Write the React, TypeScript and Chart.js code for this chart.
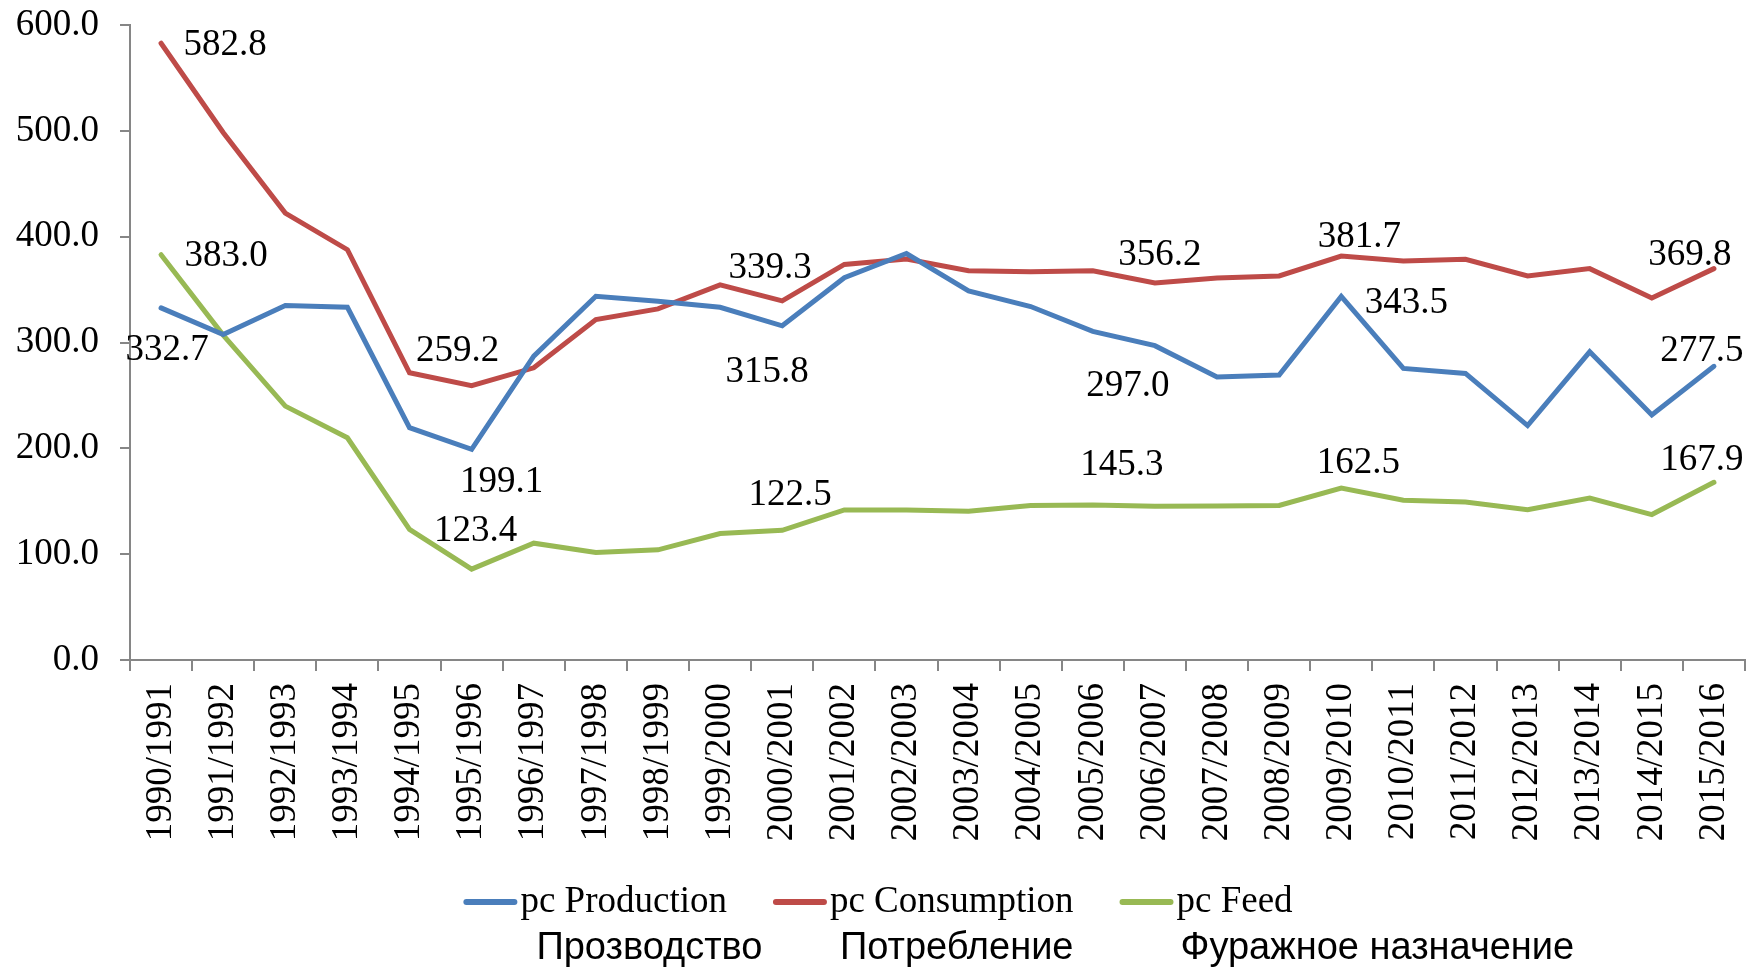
import React, { useEffect, useRef } from "react";
import { Chart, registerables } from "chart.js";

Chart.register(...registerables);

const categories = [
  "1990/1991", "1991/1992", "1992/1993", "1993/1994", "1994/1995", "1995/1996",
  "1996/1997", "1997/1998", "1998/1999", "1999/2000", "2000/2001", "2001/2002",
  "2002/2003", "2003/2004", "2004/2005", "2005/2006", "2006/2007", "2007/2008",
  "2008/2009", "2009/2010", "2010/2011", "2011/2012", "2012/2013", "2013/2014",
  "2014/2015", "2015/2016",
];

const production = [
  332.7, 307.5, 334.9, 333.3, 219.5, 199.1, 287.1, 343.7, 339.0, 333.3, 315.8, 361.2,
  384.1, 348.7, 334.0, 310.5, 297.0, 267.5, 269.3, 343.5, 275.5, 270.8, 221.5, 291.2,
  231.6, 277.5,
];

const consumption = [
  582.8, 498.5, 422.3, 387.7, 271.4, 259.2, 276.1, 321.7, 331.8, 354.5, 339.3, 373.8,
  378.8, 367.8, 366.9, 367.8, 356.2, 361.0, 362.9, 381.7, 377.0, 378.6, 362.9, 369.8,
  342.1, 369.8,
];

const feed = [
  383.0, 307.0, 239.9, 210.0, 123.4, 85.9, 110.4, 101.6, 104.1, 119.5, 122.5, 141.8,
  141.8, 140.6, 145.9, 146.5, 145.3, 145.5, 146.0, 162.5, 150.9, 149.3, 142.1, 153.1,
  137.4, 167.9,
];

const seriesNames = ["pc Production", "pc Consumption", "pc Feed"];
const seriesNamesRu = ["Прозводство", "Потребление", "Фуражное назначение"];
const seriesColors = ["#4A7EBB", "#BE4B48", "#98B954"];

const yTicks = [0, 100, 200, 300, 400, 500, 600];

// which points carry a value label: [dataset, index, dx, dy]
const labelSpecs: [number, number, number, number][] = [
  [1, 0, 64, 2],
  [2, 0, 65, 2],
  [0, 0, 6, 42],
  [1, 5, -14, -34],
  [0, 5, 30, 33],
  [2, 4, 66, 2],
  [1, 10, -12, -33],
  [0, 10, -15, 47],
  [2, 10, 8, -35],
  [1, 16, 5, -28],
  [0, 16, -27, 41],
  [2, 16, -33, -41],
  [1, 19, 18, -19],
  [0, 19, 65, 7],
  [2, 19, 17, -25],
  [1, 25, -24, -13],
  [0, 25, -12, -15],
  [2, 25, -12, -22],
];

const SERIF = "'Liberation Serif', 'Times New Roman', serif";
const SANS = "'Liberation Sans', Arial, sans-serif";

const valueLabels = {
  id: "valueLabels",
  afterDatasetsDraw(chart: any) {
    const ctx = chart.ctx;
    ctx.save();
    ctx.font = `37px ${SERIF}`;
    ctx.fillStyle = "#000";
    ctx.textAlign = "center";
    ctx.textBaseline = "middle";
    for (const [ds, i, dx, dy] of labelSpecs) {
      const pt = chart.getDatasetMeta(ds).data[i];
      const v = chart.data.datasets[ds].data[i] as number;
      ctx.fillText(v.toFixed(1), pt.x + dx, pt.y + dy);
    }
    ctx.restore();
  },
};

const customLegend = {
  id: "customLegend",
  afterDraw(chart: any) {
    const ctx = chart.ctx;
    const sample = 54;
    const gap = 3;
    const itemGap = 46;
    const row1 = chart.height - 65;
    const row2 = chart.height - 18;
    const ruOffsets = [73, 67, 61];
    ctx.save();
    ctx.font = `37px ${SERIF}`;
    const widths = seriesNames.map((n) => ctx.measureText(n).width);
    let total = 0;
    widths.forEach((w, k) => {
      total += sample + gap + w + (k < widths.length - 1 ? itemGap : 0);
    });
    let x = (chart.width - total) / 2;
    seriesNames.forEach((name, k) => {
      ctx.strokeStyle = seriesColors[k];
      ctx.lineWidth = 6;
      ctx.lineCap = "round";
      ctx.beginPath();
      ctx.moveTo(x + 3, row1);
      ctx.lineTo(x + sample - 3, row1);
      ctx.stroke();
      ctx.fillStyle = "#000";
      ctx.textAlign = "left";
      ctx.textBaseline = "middle";
      ctx.font = `37px ${SERIF}`;
      ctx.fillText(name, x + sample + gap, row1);
      ctx.font = `38px ${SANS}`;
      ctx.fillText(seriesNamesRu[k], x + ruOffsets[k], row2);
      x += sample + gap + widths[k] + itemGap;
    });
    ctx.restore();
  },
};

export default function App() {
  const ref = useRef<HTMLCanvasElement | null>(null);
  useEffect(() => {
    if (!ref.current) return;
    const chart = new Chart(ref.current, {
      type: "line",
      data: {
        labels: categories,
        datasets: [production, consumption, feed].map((d, k) => ({
          label: seriesNames[k],
          data: d,
          borderColor: seriesColors[k],
          backgroundColor: seriesColors[k],
          borderWidth: 5,
          borderJoinStyle: "miter" as const,
          borderCapStyle: "round" as const,
          pointRadius: 0,
          tension: 0,
          fill: false,
        })),
      },
      options: {
        responsive: false,
        animation: false,
        devicePixelRatio: 1,
        layout: { padding: { left: 0, right: 11, top: 25, bottom: 127 } },
        plugins: {
          legend: { display: false },
          tooltip: { enabled: false },
          title: { display: false },
        },
        scales: {
          x: {
            type: "category",
            offset: true,
            afterFit(axis: any) {
              axis.height = 180;
              axis.paddingLeft = 0;
              axis.paddingRight = 0;
              axis.paddingTop = 0;
              axis.paddingBottom = 0;
            },
            grid: {
              display: true,
              drawOnChartArea: false,
              drawTicks: true,
              tickLength: 11,
              color: "#868686",
              lineWidth: 2,
              offset: true,
            },
            border: { color: "#868686", width: 2 },
            ticks: {
              autoSkip: false,
              maxRotation: 90,
              minRotation: 90,
              padding: 12,
              color: "#000",
              font: { family: SERIF, size: 37 },
            },
          },
          y: {
            min: 0,
            max: 600,
            afterBuildTicks(axis: any) {
              axis.ticks = yTicks.map((v) => ({ value: v }));
            },
            afterFit(axis: any) {
              axis.width = 130;
              axis.paddingTop = 0;
              axis.paddingBottom = 0;
              axis.paddingLeft = 0;
              axis.paddingRight = 0;
            },
            grid: {
              display: true,
              drawOnChartArea: false,
              drawTicks: true,
              tickLength: 10,
              color: "#868686",
              lineWidth: 2,
            },
            border: { color: "#868686", width: 2 },
            ticks: {
              padding: 21,
              color: "#000",
              font: { family: SERIF, size: 37 },
              callback: (v: any) => Number(v).toFixed(1),
            },
          },
        },
      },
      plugins: [valueLabels, customLegend],
    });
    return () => chart.destroy();
  }, []);
  return (
    <div style={{ position: "absolute", left: 0, top: 0, width: 1756, height: 967, background: "#fff" }}>
      <canvas ref={ref} width={1756} height={967} style={{ display: "block" }} />
    </div>
  );
}
